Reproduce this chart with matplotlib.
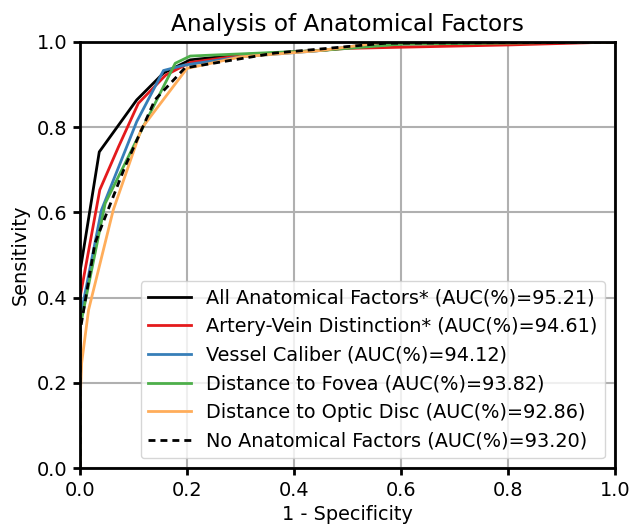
import numpy as np
import matplotlib
matplotlib.use('Agg')
import matplotlib.pyplot as plt

# ROC curves (fpr, tpr)
all_fpr = [0.0, 0.0, 0.0, 0.036, 0.106, 0.156, 0.206, 0.3, 0.45, 0.57, 1.0]
all_tpr = [0.0, 0.2, 0.46, 0.742, 0.864, 0.927, 0.958, 0.97, 0.98, 0.995, 1.0]

av_fpr = [0.0, 0.0, 0.0, 0.037, 0.072, 0.109, 0.16, 0.206, 0.3, 0.5, 0.8, 1.0]
av_tpr = [0.0, 0.2, 0.40, 0.653, 0.754, 0.856, 0.922, 0.952, 0.968, 0.985, 0.993, 1.0]

vc_fpr = [0.0, 0.0, 0.0, 0.04, 0.106, 0.156, 0.196, 0.3, 0.45, 0.57, 1.0]
vc_tpr = [0.0, 0.2, 0.35, 0.605, 0.813, 0.933, 0.946, 0.965, 0.98, 1.0, 1.0]

df_fpr = [0.0, 0.0, 0.0, 0.047, 0.115, 0.178, 0.206, 0.3, 0.45, 0.6, 1.0]
df_tpr = [0.0, 0.2, 0.33, 0.621, 0.793, 0.95, 0.967, 0.972, 0.98, 0.995, 1.0]

od_fpr = [0.0, 0.0, 0.003, 0.016, 0.062, 0.115, 0.2, 0.3, 0.45, 0.57, 1.0]
od_tpr = [0.0, 0.15, 0.246, 0.371, 0.605, 0.797, 0.938, 0.965, 0.98, 1.0, 1.0]

no_fpr = [0.0, 0.0, 0.0, 0.028, 0.084, 0.14, 0.196, 0.364, 0.57, 1.0]
no_tpr = [0.0, 0.2, 0.32, 0.528, 0.707, 0.864, 0.939, 0.974, 0.997, 1.0]

labels = ['All Anatomical Factors* (AUC(%)=95.21)',
          'Artery-Vein Distinction* (AUC(%)=94.61)',
          'Vessel Caliber (AUC(%)=94.12)',
          'Distance to Fovea (AUC(%)=93.82)',
          'Distance to Optic Disc (AUC(%)=92.86)',
          'No Anatomical Factors (AUC(%)=93.20)']

fs = 13.9

fig = plt.figure(figsize=(6.31, 5.28), dpi=100)
ax = fig.add_subplot(111)
fig.subplots_adjust(left=0.1268, right=0.9746, top=0.9205, bottom=0.1136)

#draw the curves
ax.plot(all_fpr, all_tpr, color='black', lw=2, label=labels[0])
ax.plot(av_fpr, av_tpr, color='#e41a1c', lw=2, label=labels[1])
ax.plot(vc_fpr, vc_tpr, color='#377eb8', lw=2, label=labels[2])
ax.plot(df_fpr, df_tpr, color='#4daf4a', lw=2, label=labels[3])
ax.plot(od_fpr, od_tpr, color='#ffad5a', lw=2, label=labels[4])
ax.plot(no_fpr, no_tpr, color='black', lw=2, ls=(0, (2.5, 1.8)), label=labels[5])

ax.set_xlim(0, 1)
ax.set_ylim(0, 1)
ax.set_xticks(np.arange(0, 1.01, 0.2))
ax.set_yticks(np.arange(0, 1.01, 0.2))
ax.grid(True, color='#b0b0b0', lw=1.5)
ax.set_axisbelow(True)
for s in ax.spines.values():
    s.set_linewidth(2)
ax.tick_params(labelsize=fs, width=2, length=5, pad=4)

ax.set_title('Analysis of Anatomical Factors', fontsize=16.7, pad=8)
ax.set_xlabel('1 - Specificity', fontsize=fs, labelpad=4)
ax.set_ylabel('Sensitivity', fontsize=fs, labelpad=5)
ax.legend(loc='lower right', fontsize=fs, handlelength=2.2, borderaxespad=0.5)

plt.savefig('out.png')
